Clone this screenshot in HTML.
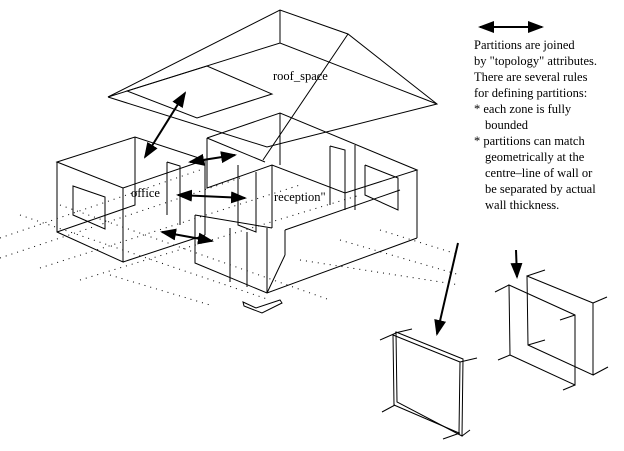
<!DOCTYPE html>
<html><head><meta charset="utf-8"><style>
body{margin:0;background:#fff}
svg{display:block}
text{font-family:"Liberation Serif",serif;font-size:12.5px;fill:#000}
</style></head><body>
<svg width="624" height="451" viewBox="0 0 624 451">
<defs>
<marker id="ah" markerWidth="8" markerHeight="6" refX="7" refY="3" orient="auto"><path d="M0,0 L8,3 L0,6 Z" fill="#000"/></marker>
<marker id="ahs" markerWidth="8" markerHeight="6" refX="1" refY="3" orient="auto"><path d="M8,0 L0,3 L8,6 Z" fill="#000"/></marker>
</defs>
<g stroke="#000" stroke-width="1" stroke-dasharray="1 5">
<line x1="0" y1="238" x2="200" y2="170"/><line x1="0" y1="258" x2="240" y2="178"/>
<line x1="40" y1="268" x2="300" y2="185"/><line x1="80" y1="280" x2="360" y2="195"/>
<line x1="20" y1="215" x2="270" y2="300"/><line x1="60" y1="205" x2="330" y2="300"/>
<line x1="110" y1="275" x2="210" y2="305"/><line x1="300" y1="260" x2="460" y2="285"/>
<line x1="340" y1="240" x2="460" y2="275"/><line x1="380" y1="230" x2="460" y2="255"/>
</g>
<g fill="none" stroke="#000" stroke-width="1">
<polyline points="108,97 280,10 348,34 437,104 267,147 108,97"/>
<line x1="280" y1="10" x2="280" y2="43"/>
<polyline points="108,97 280,43 437,104"/>
<line x1="348" y1="34" x2="263" y2="160"/>
<polygon points="127,91 207,66 272,94 197,118"/>
</g>
<g fill="none" stroke="#000" stroke-width="1">
<polygon points="57,162 135,137 205,160 123,188"/>
<polyline points="57,162 57,232 123,262 123,188"/>
<polyline points="135,137 135,205 57,232"/>
<line x1="123" y1="262" x2="205" y2="235"/>
<line x1="205" y1="160" x2="205" y2="235"/>
<polygon points="73,186 105,197 105,229 73,215"/>
<polyline points="167,162 180,166 180,225"/><line x1="167" y1="162" x2="167" y2="215"/>
</g>
<g fill="none" stroke="#000" stroke-width="1">
<polyline points="207,138 280,113 417,170 345,193 272,165 207,188 207,138"/>
<line x1="207" y1="138" x2="265" y2="162"/>
<line x1="280" y1="113" x2="280" y2="165"/>
<line x1="417" y1="170" x2="417" y2="238"/>
<polyline points="195,215 195,263 267,293 417,238"/>
<line x1="272" y1="165" x2="272" y2="228"/>
<line x1="267" y1="228" x2="267" y2="293"/>
<line x1="195" y1="215" x2="272" y2="228"/>
<line x1="267" y1="293" x2="285" y2="255"/><line x1="285" y1="255" x2="285" y2="230"/>
<line x1="285" y1="230" x2="400" y2="190"/>
<polyline points="238,165 238,225 256,232 256,172"/>
<line x1="230" y1="228" x2="230" y2="282"/><line x1="247" y1="232" x2="247" y2="287"/>
<polyline points="330,146 345,150 345,210"/><line x1="330" y1="146" x2="330" y2="205"/>
<polyline points="365,165 398,178 398,210 365,195 365,165"/>
<line x1="355" y1="145" x2="355" y2="210"/>
</g>
<g stroke="#000" stroke-width="2" fill="none">
<line x1="145" y1="157" x2="185" y2="93" marker-end="url(#ah)" marker-start="url(#ahs)"/>
<line x1="190" y1="162" x2="235" y2="155" marker-end="url(#ah)" marker-start="url(#ahs)"/>
<line x1="178" y1="195" x2="245" y2="198" marker-end="url(#ah)" marker-start="url(#ahs)"/>
<line x1="162" y1="232" x2="212" y2="241" marker-end="url(#ah)" marker-start="url(#ahs)"/>
<line x1="480" y1="27" x2="542" y2="27" marker-end="url(#ah)" marker-start="url(#ahs)"/>
<line x1="458" y1="243" x2="437" y2="334" marker-end="url(#ah)"/>
<line x1="516" y1="250" x2="517" y2="277" marker-end="url(#ah)"/>
</g>
<polygon points="243,302 256,308 280,300 282,303 262,313 244,306" fill="none" stroke="#000"/>
<text x="273" y="80">roof_space</text>
<text x="131" y="197">office</text>
<text x="274" y="201">reception"</text>
<g>
<text x="474" y="49">Partitions are joined</text>
<text x="474" y="65">by "topology" attributes.</text>
<text x="474" y="81">There are several rules</text>
<text x="474" y="97">for defining partitions:</text>
<text x="474" y="113">* each zone is fully</text>
<text x="485" y="129">bounded</text>
<text x="474" y="145">* partitions can match</text>
<text x="485" y="161">geometrically at the</text>
<text x="485" y="177">centre–line of wall or</text>
<text x="485" y="193">be separated by actual</text>
<text x="485" y="209">wall thickness.</text>
</g>
<g fill="none" stroke="#000" stroke-width="1">
<polygon points="393,335 460,362 459,433 394,405"/>
<polygon points="396,332 463,359 462,436 397,402"/>
<line x1="380" y1="340" x2="396" y2="333"/><line x1="395" y1="333" x2="412" y2="329"/>
<line x1="460" y1="362" x2="477" y2="358"/><line x1="382" y1="412" x2="395" y2="405"/>
<line x1="443" y1="439" x2="460" y2="433"/><line x1="462" y1="436" x2="470" y2="430"/>
</g>
<g fill="none" stroke="#000" stroke-width="1">
<polygon points="509,285 575,315 575,385 510,355"/>
<polygon points="527,276 593,303 593,375 528,345"/>
<line x1="495" y1="292" x2="509" y2="285"/><line x1="527" y1="276" x2="545" y2="270"/>
<line x1="593" y1="303" x2="607" y2="297"/><line x1="575" y1="315" x2="560" y2="320"/>
<line x1="498" y1="360" x2="510" y2="355"/><line x1="528" y1="345" x2="545" y2="340"/>
<line x1="563" y1="390" x2="575" y2="385"/><line x1="593" y1="375" x2="608" y2="367"/>
</g>
</svg>
</body></html>
